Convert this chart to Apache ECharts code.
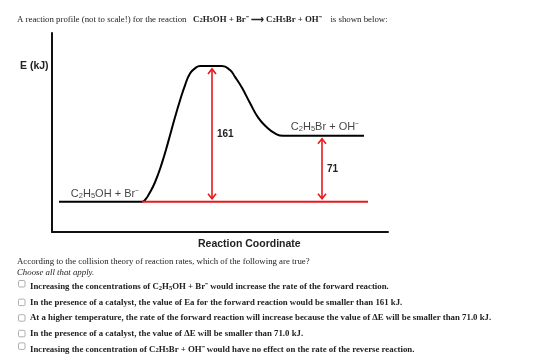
<!DOCTYPE html>
<html lang="en">
<head>
<meta charset="UTF-8">
<title>Reaction profile</title>
<script src="https://cdn.jsdelivr.net/npm/echarts@6/dist/echarts.min.js"></script>
<style>
  html,body{margin:0;padding:0;background:#fff;}
  #main{width:560px;height:361px;}
</style>
</head>
<body>
<div id="main"></div>
<script>
  // reaction coordinate (x) and drawn energy (E) - not to scale
  var curveX = [7, 90, 93, 97, 103, 110, 116, 123, 128, 133, 138, 143, 148, 170, 178, 183, 190, 198, 206, 215, 223, 231, 312];
  var curveE = [0, 0, 2, 9, 23, 46, 70, 100, 120, 138, 152, 158, 161, 161, 156, 148, 135, 117, 100, 88, 81, 78, 78];
  // red reference line at reactant energy
  var baseX = [90, 316];
  var baseE = [0, 0];
  // double arrows: x, from, to, label
  var arrowX = [160, 270];
  var arrowFrom = [0, 0];
  var arrowTo = [161, 78];
  var arrowText = ['161', '71'];
  // species labels
  var speciesX = [53, 273];
  var speciesE = [9, 88];
  var speciesText = ['C_2H_5OH + Br\u207B', 'C_2H_5Br + OH\u207B'];
  // text round the chart
  var titleText = ['A reaction profile (not to scale!) for the reaction', 'C_2H_5OH + Br\u207B \u27F6 C_2H_5Br + OH\u207B', 'is shown below:'];
  var questionText = 'According to the collision theory of reaction rates, which of the following are true?';
  var hintText = 'Choose all that apply.';
  var options = [
    'Increasing the concentrations of C_2H_5OH + Br\u207B would increase the rate of the forward reaction.',
    'In the presence of a catalyst, the value of Ea for the forward reaction would be smaller than 161 kJ.',
    'At a higher temperature, the rate of the forward reaction will increase because the value of \u0394E will be smaller than 71.0 kJ.',
    'In the presence of a catalyst, the value of \u0394E will be smaller than 71.0 kJ.',
    'Increasing the concentration of C_2H_5Br + OH\u207B would have no effect on the rate of the reverse reaction.'
  ];

  var SERIF = "'Liberation Serif', 'Times New Roman', serif";
  var SANS = "'Liberation Sans', Arial, sans-serif";
  var RED = '#e8191c';
  var FS = 8.8;

  // turn "C_2H_5OH" into rich text tokens (subscript digits)
  function chem(str, pre) {
    pre = pre || '';
    var out = '', buf = '';
    function flush() {
      if (buf) { out += pre ? '{' + pre + '|' + buf + '}' : buf; buf = ''; }
    }
    for (var i = 0; i < str.length; i++) {
      var c = str[i];
      if (c === '_') {
        flush();
        out += '{' + pre + 'sub|' + str[i + 1] + '}';
        i++;
      } else {
        buf += c;
      }
    }
    flush();
    return out;
  }

  function zip(a, b) {
    var r = [];
    for (var i = 0; i < a.length; i++) r.push([a[i], b[i]]);
    return r;
  }

  var serifRich = {
    b: {fontFamily: SERIF, fontSize: FS, fontWeight: 'bold', fill: '#222'},
    bsub: {fontFamily: SERIF, fontSize: 6.5, fontWeight: 'bold', verticalAlign: 'bottom', fill: '#222'},
    sub: {fontFamily: SERIF, fontSize: 6.5, fontWeight: 'bold', verticalAlign: 'bottom', fill: '#222'}
  };

  var graphics = [];
  // title
  graphics.push({
    type: 'text', left: 17, top: 15,
    style: {
      text: titleText[0] + '   ' + chem(titleText[1], 'b') + '    ' + titleText[2],
      fontFamily: SERIF, fontSize: FS, fill: '#222', rich: serifRich
    }
  });
  // axis titles
  graphics.push({
    type: 'text', left: 20, top: 61,
    style: {text: 'E (kJ)', fontFamily: SANS, fontSize: 10.5, fontWeight: 'bold', fill: '#222'}
  });
  graphics.push({
    type: 'text', left: 198, top: 239,
    style: {text: 'Reaction Coordinate', fontFamily: SANS, fontSize: 10.5, fontWeight: 'bold', fill: '#222'}
  });
  // question
  graphics.push({
    type: 'text', left: 17, top: 257,
    style: {text: questionText, fontFamily: SERIF, fontSize: FS, fill: '#222'}
  });
  graphics.push({
    type: 'text', left: 17, top: 268,
    style: {text: hintText, fontFamily: SERIF, fontSize: FS, fontStyle: 'italic', fill: '#222'}
  });
  for (var i = 0; i < options.length; i++) {
    var yc = 287 + i * 15.6;
    var hasChem = options[i].indexOf('_') >= 0;
    graphics.push({
      type: 'rect', shape: {x: 18.5, y: yc - (hasChem ? 6.5 : 3.5), width: 6.5, height: 6.5, r: 1.2},
      style: {fill: '#fff', stroke: '#999', lineWidth: 0.8}
    });
    graphics.push({
      type: 'text', x: 30, y: yc,
      style: {
        text: chem(options[i], ''), fontFamily: SERIF, fontSize: FS, fontWeight: 'bold',
        fill: '#222', verticalAlign: 'middle', rich: serifRich
      }
    });
  }

  var chart = echarts.init(document.getElementById('main'));
  var option = {
    backgroundColor: '#fff',
    animation: false,
    grid: {left: 52, top: 33, width: 336, height: 199},
    xAxis: {
      type: 'value', min: 0, max: 336,
      axisLine: {show: true, onZero: false, lineStyle: {color: '#111', width: 2}},
      axisTick: {show: false}, axisLabel: {show: false}, splitLine: {show: false}
    },
    yAxis: {
      type: 'value', min: -36, max: 200,
      axisLine: {show: true, onZero: false, lineStyle: {color: '#111', width: 2}},
      axisTick: {show: false}, axisLabel: {show: false}, splitLine: {show: false}
    },
    series: [{
      type: 'line',
      data: zip(curveX, curveE),
      showSymbol: false,
      smooth: 0.5,
      lineStyle: {color: '#000', width: 2},
      z: 2
    }, {
      type: 'line',
      data: zip(baseX, baseE),
      showSymbol: false,
      lineStyle: {color: RED, width: 2},
      z: 3
    }, {
      type: 'custom',
      data: arrowX.map(function (x, i) { return [x, arrowFrom[i], arrowTo[i]]; }),
      renderItem: function (params, api) {
        var top = api.coord([api.value(0), api.value(2)]);
        var bot = api.coord([api.value(0), api.value(1)]);
        var x = top[0], y1 = top[1] + 3, y2 = bot[1] - 3;
        var w = 4, h = 5;
        var st = {stroke: RED, lineWidth: 1.6, fill: null};
        return {
          type: 'group',
          children: [
            {type: 'line', shape: {x1: x, y1: y1, x2: x, y2: y2}, style: st},
            {type: 'polyline', shape: {points: [[x - w, y1 + h], [x, y1], [x + w, y1 + h]]}, style: st},
            {type: 'polyline', shape: {points: [[x - w, y2 - h], [x, y2], [x + w, y2 - h]]}, style: st},
            {type: 'text', x: x + 5, y: (y1 + y2) / 2,
              style: {text: arrowText[params.dataIndex], fontFamily: SANS, fontSize: 10, fontWeight: 'bold',
                fill: '#222', verticalAlign: 'middle'}}
          ]
        };
      },
      z: 4
    }, {
      type: 'scatter',
      data: zip(speciesX, speciesE),
      symbolSize: 0,
      label: {
        show: true, position: 'inside',
        formatter: function (p) { return chem(speciesText[p.dataIndex], ''); },
        fontFamily: SANS, fontSize: 11, color: '#111',
        rich: {
          sub: {fontFamily: SANS, fontSize: 7.5, verticalAlign: 'bottom', color: '#111'}
        }
      },
      z: 5
    }],
    graphic: graphics
  };
  chart.setOption(option);
</script>
</body>
</html>
